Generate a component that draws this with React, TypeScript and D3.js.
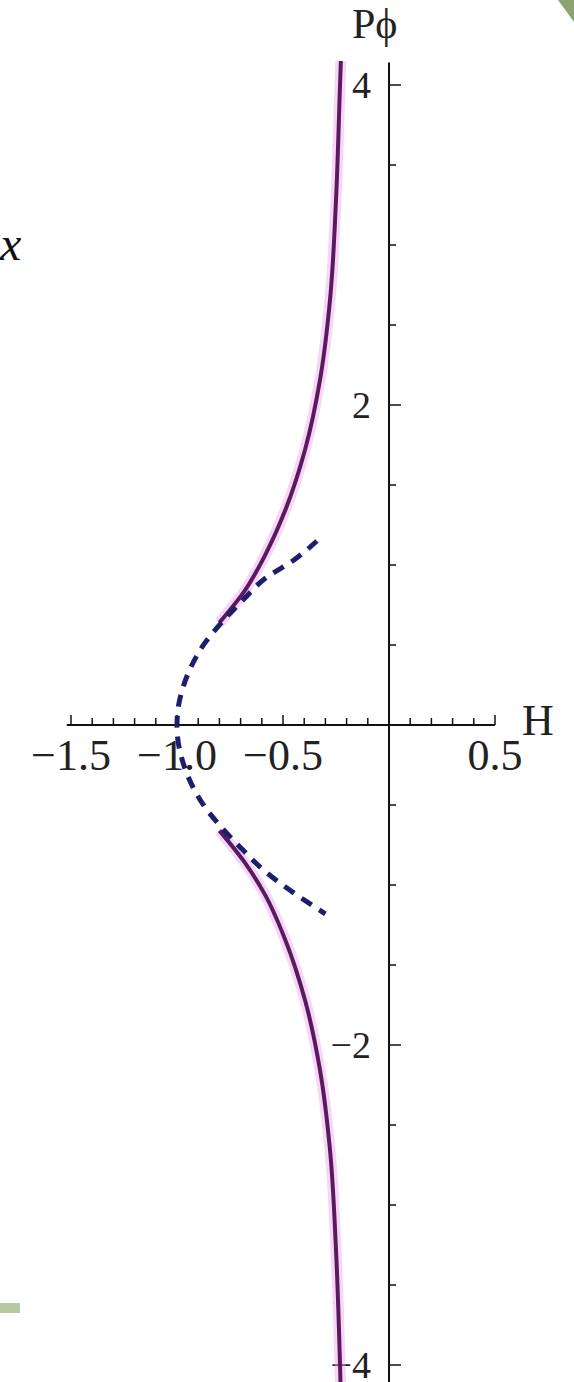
import React from "react";
import * as d3 from "d3";

// Phase-space curves: momentum Pϕ against energy H
const upperSolidH = [-0.227, -0.231, -0.25, -0.278, -0.325, -0.396, -0.49, -0.585, -0.68, -0.8];
const upperSolidP = [4.15, 4.0, 3.28, 2.66, 2.16, 1.72, 1.34, 1.06, 0.84, 0.64];
const lowerSolidH = [-0.8, -0.68, -0.585, -0.49, -0.396, -0.325, -0.278, -0.25, -0.231, -0.227];
const lowerSolidP = [-0.66, -0.86, -1.06, -1.34, -1.72, -2.16, -2.66, -3.28, -4.0, -4.2];

// Dashed approximation near the turning point
const dashedH = [-0.34, -0.45, -0.58, -0.69, -0.79, -0.87, -0.935, -0.975, -0.997, -1.0, -0.997, -0.975, -0.935, -0.87, -0.79, -0.69, -0.58, -0.47, -0.3];
const dashedP = [1.15, 1.03, 0.92, 0.78, 0.64, 0.51, 0.36, 0.22, 0.08, 0, -0.08, -0.22, -0.36, -0.51, -0.64, -0.78, -0.92, -1.03, -1.18];

const xTickLabels = ["−1.5", "−1.0", "−0.5", "0.5"];
const xTickValues = [-1.5, -1.0, -0.5, 0.5];
const yTickLabels = ["4", "2", "−2", "−4"];
const yTickValues = [4, 2, -2, -4];

const W = 574;
const H = 1382;

export default function App() {
  const x = d3.scaleLinear().domain([-1.5, 0.5]).range([71, 495]);
  const y = d3.scaleLinear().domain([-4, 4]).range([1365, 85]);

  const line = d3
    .line<[number, number]>()
    .x((d) => x(d[0]))
    .y((d) => y(d[1]))
    .curve(d3.curveMonotoneY);

  const zip = (a: number[], b: number[]) => a.map((v, i) => [v, b[i]] as [number, number]);
  const upper = line(zip(upperSolidH, upperSolidP)) || "";
  const lower = line(zip(lowerSolidH, lowerSolidP)) || "";
  const dashed = line(zip(dashedH, dashedP)) || "";

  const xMinor = d3.range(-15, 6).map((i) => i / 10).filter((v) => Math.abs(v) > 1e-9);
  const yMinor = d3.range(-8, 9).map((i) => i / 2).filter((v) => v !== 0);

  const x0 = x(0);
  const y0 = y(0);
  const serif = "'Liberation Serif', 'Times New Roman', serif";

  return (
    <svg
      width={W}
      height={H}
      style={{ position: "absolute", left: 0, top: 0, display: "block", background: "#fff" }}
    >
      {/* decorative corner shapes */}
      <polygon points="558,0 574,0 574,22" fill="#8aa472" />
      <rect x={0} y={1303} width={20} height={10} fill="#b7c9a5" />

      <text x={0} y={260} fontFamily={serif} fontStyle="italic" fontSize={48} fill="#111">
        x
      </text>

      {/* axes */}
      <line x1={x(-1.52)} x2={x(0.5)} y1={y0} y2={y0} stroke="#111" strokeWidth={2} />
      <line x1={x0} x2={x0} y1={y(4.14)} y2={H} stroke="#111" strokeWidth={2} />

      {xMinor.map((v) => {
        const major = xTickValues.some((t) => Math.abs(t - v) < 1e-9);
        return (
          <line key={"xt" + v} x1={x(v)} x2={x(v)} y1={y0} y2={y0 - (major ? 10 : 7)} stroke="#111" strokeWidth={1.5} />
        );
      })}
      {yMinor.map((v) => {
        const major = yTickValues.includes(v);
        return (
          <line key={"yt" + v} x1={x0} x2={x0 + (major ? 12 : 7)} y1={y(v)} y2={y(v)} stroke="#111" strokeWidth={1.5} />
        );
      })}

      {xTickValues.map((v, i) => (
        <text key={"xl" + v} x={x(v)} y={770} textAnchor="middle" fontFamily={serif} fontSize={44} fill="#222">
          {xTickLabels[i]}
        </text>
      ))}
      {yTickValues.map((v, i) => (
        <text
          key={"yl" + v}
          x={371}
          y={y(v)}
          dy="0.35em"
          textAnchor="end"
          fontFamily={serif}
          fontSize={38}
          fill="#222"
        >
          {yTickLabels[i]}
        </text>
      ))}

      <text x={522} y={735} fontFamily={serif} fontSize={44} fill="#222">
        H
      </text>
      <text x={352} y={38} fontFamily={serif} fontSize={42} fill="#222">
        Pϕ
      </text>

      {/* solid branches with soft halo */}
      <path d={upper} fill="none" stroke="#eaa2ee" strokeOpacity={0.45} strokeWidth={11} />
      <path d={lower} fill="none" stroke="#eaa2ee" strokeOpacity={0.45} strokeWidth={11} />
      <path d={upper} fill="none" stroke="#5a1a60" strokeWidth={4} />
      <path d={lower} fill="none" stroke="#5a1a60" strokeWidth={4} />

      {/* dashed branch */}
      <path d={dashed} fill="none" stroke="#1e1e6e" strokeWidth={5} strokeDasharray="12,9" />
    </svg>
  );
}
